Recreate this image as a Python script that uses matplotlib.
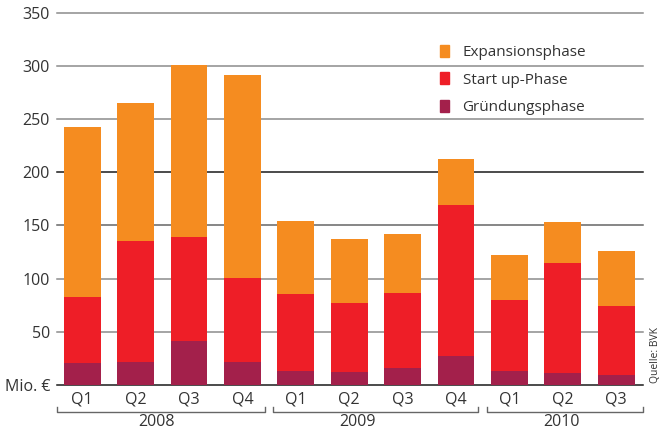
import matplotlib
matplotlib.use("Agg")
import matplotlib.pyplot as plt
from matplotlib.patches import Patch
import numpy as np

plt.rcParams['font.family'] = ['Open Sans', 'DejaVu Sans']

quarters = ["Q1", "Q2", "Q3", "Q4", "Q1", "Q2", "Q3", "Q4", "Q1", "Q2", "Q3"]
years = ["2008", "2009", "2010"]
year_sizes = [4, 4, 3]

gruendung = [21, 22, 41, 22, 13, 12, 16, 27, 13, 11, 9]
startup_top = [83, 135.5, 139, 100.5, 85.5, 77, 86.5, 169, 80, 115, 74.5]
total = [243, 265.5, 301, 291.5, 154.5, 137.5, 142, 212.5, 122.5, 153.5, 126]

startup = [s - g for s, g in zip(startup_top, gruendung)]
expansion = [t - s for t, s in zip(total, startup_top)]

yticks = [0, 50, 100, 150, 200, 250, 300, 350]
ytick_labels = ["Mio. €", "50", "100", "150", "200", "250", "300", "350"]

c_exp = "#F58C20"
c_start = "#EE1E27"
c_gr = "#A3204B"
text_c = "#333333"

W, H = 661, 430
fig = plt.figure(figsize=(W / 100, H / 100), dpi=100)
ax = fig.add_axes([57 / W, 1 - 385 / H, (643 - 57) / W, (385 - 12.7) / H])

x = np.arange(len(quarters))
bw = 0.69
ax.bar(x, gruendung, bw, color=c_gr, zorder=2, linewidth=0)
ax.bar(x, startup, bw, bottom=gruendung, color=c_start, zorder=2, linewidth=0)
ax.bar(x, expansion, bw, bottom=startup_top, color=c_exp, zorder=2, linewidth=0)

ax.set_xlim(-0.47, 10.5)
ax.set_ylim(0, 350)

grid_colors = {0: "#1a1a1a", 200: "#1a1a1a", 150: "#666666"}
for yv in yticks:
    ax.axhline(yv, color=grid_colors.get(yv, "#8c8c8c"), lw=1.1, zorder=1, clip_on=False)

for s in ax.spines.values():
    s.set_visible(False)
ax.set_yticks(yticks)
ax.set_yticklabels(ytick_labels, fontsize=11.5, color=text_c)
ax.tick_params(axis='y', length=0, pad=5)
ax.set_xticks(x)
ax.set_xticklabels(quarters, fontsize=11.5, color=text_c)
ax.tick_params(axis='x', length=0, pad=5)

# year brackets
trans = ax.get_xaxis_transform()
start = 0
year_x = [1.39, 5.16, 8.97]
for i, (yr, sz) in enumerate(zip(years, year_sizes)):
    lo = start - 0.5 + (0.08 if i > 0 else 0.03)
    hi = start + sz - 0.5 - (0.08 if i < len(years) - 1 else 0)
    yb = -(412 - 385) / (385 - 12.7)
    yt = -(406.5 - 385) / (385 - 12.7)
    ax.plot([lo, lo, hi, hi], [yt, yb, yb, yt], transform=trans, color="#666666",
            lw=1.0, clip_on=False)
    ax.text(year_x[i], -(422 - 385) / (385 - 12.7), yr, transform=trans,
            ha='center', va='center', fontsize=11.5, color=text_c)
    start += sz

handles = [Patch(color=c_exp, label="Expansionsphase"),
           Patch(color=c_start, label="Start up-Phase"),
           Patch(color=c_gr, label="Gründungsphase")]
leg = ax.legend(handles=handles, loc='upper left',
                bbox_to_anchor=(440 / W, 1 - 45 / H), bbox_transform=fig.transFigure,
                frameon=False, fontsize=11, handlelength=0.58, handleheight=0.85,
                handletextpad=0.9, labelspacing=0.78, borderpad=0, borderaxespad=0)
for t in leg.get_texts():
    t.set_color(text_c)

fig.text(656 / W, 1 - 383 / H, "Quelle: BVK", rotation=90, ha='center', va='bottom',
         fontsize=7.5, color=text_c)

fig.savefig("out.png", dpi=100)
